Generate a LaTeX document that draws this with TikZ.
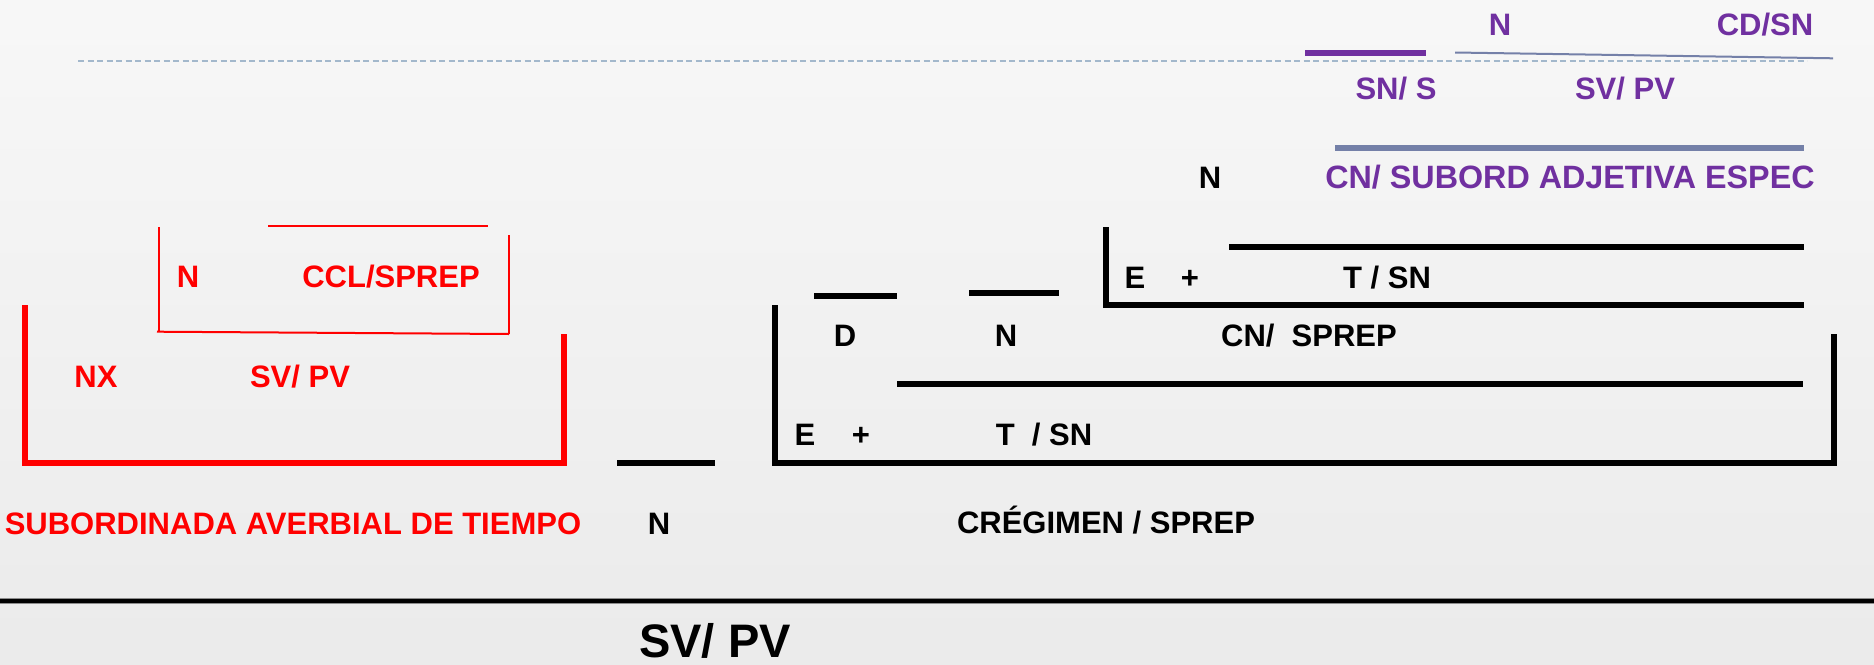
\documentclass[tikz,border=0pt]{standalone}
\usepackage{fontspec}
\setmainfont{Liberation Sans}
\definecolor{offpurple}{HTML}{7030A0}
\definecolor{slateline}{HTML}{7480A8}
\definecolor{dashblue}{HTML}{A3B8CC}
\definecolor{redline}{HTML}{FF0000}
\begin{document}
\begin{tikzpicture}[x=1pt,y=-1pt,
  lbl/.style={inner sep=0pt, anchor=base, font=\fontsize{31}{37}\selectfont\bfseries},
  widelbl/.style={inner sep=0pt, anchor=base, font=\fontsize{32.3}{38}\selectfont\bfseries},
  biglbl/.style={inner sep=0pt, anchor=base, font=\fontsize{47}{56}\selectfont\bfseries},
  thick line/.style={line width=5.5pt, line cap=butt, line join=miter},
  thin red/.style={line width=2pt, draw=redline},
  ]
\shade[top color=white!97!black, bottom color=white!92!black] (0,0) rectangle (1874,664);
\useasboundingbox (0,0) rectangle (1874,664);

% top purple area
\draw[dashblue, line width=2pt, dash pattern=on 6pt off 3.5pt] (78,61) -- (1807,61);
\draw[offpurple, line width=6pt] (1305,53) -- (1426,53);
\draw[slateline, line width=2pt] (1455,52.5) -- (1833,58.3);
\node[lbl, text=offpurple] (pn) at (1500,35) {N};
\node[lbl, text=offpurple] (pcd) at (1765,35) {CD/SN};
\node[lbl, text=offpurple] (psn) at (1396,99) {SN/ S};
\node[lbl, text=offpurple] (psv) at (1625,99) {SV/ PV};
\draw[slateline, line width=6pt] (1335,148) -- (1804,148);
\node[widelbl, text=offpurple] (pcn) at (1570,188.5) {CN/ SUBORD ADJETIVA ESPEC};
\node[lbl] (bn1) at (1210,188) {N};

% upper black bracket
\draw[thick line] (1106,227) -- (1106,305) -- (1804,305);
\draw[thick line] (1229,247) -- (1804,247);
\node[lbl] (e1) at (1135,288) {E};
\node[lbl] (p1) at (1190,288) {+};
\node[lbl] (t1) at (1387,288) {T / SN};

% red thin bracket
\draw[thin red] (159,227) -- (159,332);
\draw[thin red] (157,331.7) -- (509,334);
\draw[thin red] (509,235) -- (509,334);
\draw[thin red] (268,226) -- (488,226);
\node[lbl, text=redline] (rn) at (188,287) {N};
\node[lbl, text=redline] (rccl) at (391,287) {CCL/SPREP};

% red thick bracket
\draw[thick line, redline] (25,305) -- (25,463) -- (564,463) -- (564,334);
\node[lbl, text=redline] (rnx) at (96,387) {NX};
\node[lbl, text=redline] (rsv) at (300,387) {SV/ PV};
\node[lbl, text=redline] (rsub) at (293,534) {SUBORDINADA AVERBIAL DE TIEMPO};

% black N
\draw[thick line] (617,463) -- (715,463);
\node[lbl] (bn2) at (659,534) {N};

% big black bracket
\draw[thick line] (814,296) -- (897,296);
\draw[thick line] (969,293) -- (1059,293);
\draw[thick line] (775,305) -- (775,463) -- (1834,463) -- (1834,334);
\draw[thick line] (897,384) -- (1803,384);
\node[lbl] (d) at (845,346) {D};
\node[lbl] (bn3) at (1006,346) {N};
\node[lbl] (cnsp) at (1309,346) {CN/\ \ SPREP};
\node[lbl] (e2) at (805,445) {E};
\node[lbl] (p2) at (861,445) {+};
\node[lbl] (t2) at (1044,445) {T\ \ / SN};
\node[lbl] (creg) at (1106,533) {CRÉGIMEN / SPREP};

% separator
\draw[line width=6.5pt, black!45] (0,601) -- (1874,601);
\draw[line width=4.5pt, black] (0,601) -- (1874,601);
\node[biglbl] (svpv) at (715,657) {SV/ PV};
\end{tikzpicture}
\end{document}
